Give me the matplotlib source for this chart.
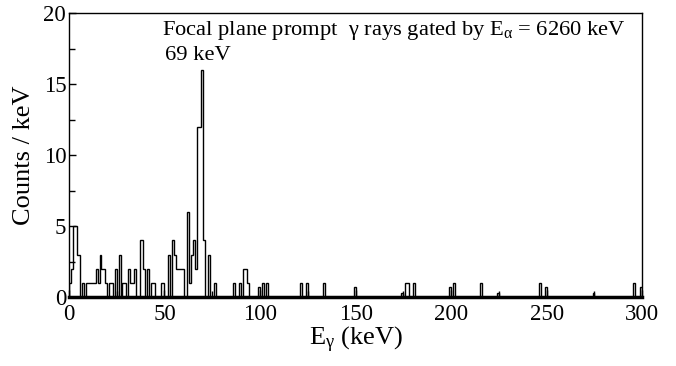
import numpy as np
import matplotlib.pyplot as plt
from matplotlib.ticker import MultipleLocator

# gamma-ray energy bins (1 keV wide) and counts
bin_edges = np.arange(0, 301, 1)
peak_bins = [0, 1, 2, 3, 4, 5, 7, 9, 10, 11, 12, 13, 14, 15, 16, 17, 18, 19,
             21, 22, 24, 26, 28, 29, 31, 32, 33, 34, 37, 38, 39, 41, 43, 44,
             48, 49, 52, 54, 55, 56, 57, 58, 59, 62, 63, 64, 65, 66, 67, 68,
             69, 70, 73, 76, 86, 89, 91, 92, 93, 99, 101, 103, 121, 124, 133,
             149, 174, 176, 177, 180, 199, 201, 215, 224, 246, 249, 274, 295,
             299]
peak_counts = [1, 2, 5, 5, 3, 3, 1, 1, 1, 1, 1, 1, 2, 1, 3, 2, 2, 1,
               1, 1, 2, 3, 1, 1, 2, 1, 1, 2, 4, 4, 2, 2, 1, 1,
               1, 1, 3, 4, 3, 2, 2, 2, 2, 6, 1, 3, 4, 2, 12, 12,
               16, 4, 3, 1, 1, 1, 2, 2, 1, 0.7, 1, 1, 1, 1, 1,
               0.7, 0.3, 1, 1, 1, 0.7, 1, 1, 0.3, 1, 0.7, 0.3, 1,
               0.7]

x_ticks = [0, 50, 100, 150, 200, 250, 300]
y_ticks = [0, 5, 10, 15, 20]

counts = np.zeros(len(bin_edges) - 1)
counts[peak_bins] = peak_counts

plt.rcParams['font.family'] = ['Liberation Serif', 'DejaVu Serif']
plt.rcParams['mathtext.fontset'] = 'custom'
plt.rcParams['mathtext.rm'] = 'Liberation Serif'
plt.rcParams['mathtext.it'] = 'Liberation Serif'

fig = plt.figure(figsize=(6.76, 3.66), dpi=100)
ax = fig.add_axes([0.102, 0.188, 0.848, 0.776])

ax.stairs(counts, bin_edges, color='black', linewidth=1.0, baseline=0)

ax.set_xlim(0, 300)
ax.set_ylim(0, 20)
ax.set_xticks(x_ticks)
ax.set_yticks(y_ticks)
ax.xaxis.set_minor_locator(MultipleLocator(25))
ax.yaxis.set_minor_locator(MultipleLocator(2.5))
ax.tick_params(which='both', direction='in', top=False, right=False,
               labelsize=16.5, width=1, pad=2)
ax.tick_params(axis='x', which='both', pad=5)
ax.tick_params(which='major', length=5)
ax.tick_params(which='minor', length=4)
for s in ax.spines.values():
    s.set_linewidth(1)
ax.spines['bottom'].set_linewidth(2.5)

ax.set_xlabel('E$_\\mathrm{γ}$ (keV)', fontsize=19, labelpad=0)
ax.set_ylabel('Counts / keV', fontsize=19, labelpad=6)

ax.text(48.5, 18.45, 'Focal plane prompt  γ rays gated by E$_\\mathrm{α}$ = 6260 keV',
        ha='left', va='baseline', fontsize=16.2)
ax.text(50.5, 16.7, '69 keV', ha='left', va='baseline', fontsize=16.2)

fig.savefig('out.png', dpi=100)
